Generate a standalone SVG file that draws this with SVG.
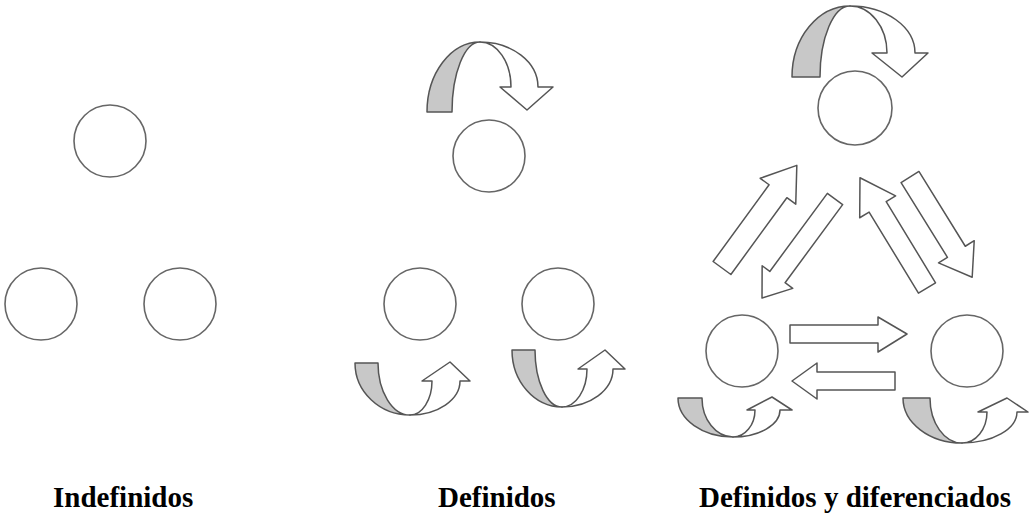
<svg xmlns="http://www.w3.org/2000/svg" width="1034" height="528" viewBox="0 0 1034 528">
<style>
.node{fill:#fff;stroke:#666;stroke-width:1.6}
.back{fill:#c8c8c8;stroke:#555;stroke-width:1.5;stroke-linejoin:round}
.front{fill:#fff;stroke:#555;stroke-width:1.5;stroke-linejoin:round}
.blk{fill:#fff;stroke:#555;stroke-width:1.5;stroke-linejoin:round}
.lbl{font-family:"Liberation Serif","Times New Roman",serif;font-weight:bold;font-size:29px;fill:#000}
</style>
<rect width="1034" height="528" fill="#fff"/>
<g id="panel1">
<g id="p1-top"><circle class="node" cx="110" cy="141" r="36"/></g>
<g id="p1-left"><circle class="node" cx="41" cy="304" r="36"/></g>
<g id="p1-right"><circle class="node" cx="180" cy="304" r="36"/></g>
</g>
<g id="panel2">
<g id="p2-top"><circle class="node" cx="489" cy="156" r="36"/></g>
<g id="p2-left"><circle class="node" cx="420" cy="304" r="36"/></g>
<g id="p2-right"><circle class="node" cx="558" cy="304" r="36"/></g>
</g>
<g id="panel3">
<g id="p3-top"><circle class="node" cx="855" cy="108" r="37"/></g>
<g id="p3-left"><circle class="node" cx="742" cy="351" r="36"/></g>
<g id="p3-right"><circle class="node" cx="967" cy="351" r="36"/></g>
</g>
<g id="connectors">
<path class="back" d="M427,112 A53,70 0 0 1 480,42 A28,70 0 0 0 452,112 Z"/>
<path class="front" d="M480,42 A31,45 0 0 1 511,87 L500,87 L527,110 L553,87 L538,87 A58,45 0 0 0 480,42 Z"/>
<path class="back" d="M355,363 A55,52 0 0 0 410,415 A32,52 0 0 1 378,363 Z"/>
<path class="front" d="M410,415 A22,34 0 0 0 432,381 L422,381 L450,362 L470,381 L460,381 A50,34 0 0 1 410,415 Z"/>
<path class="back" d="M512,350 A50,57 0 0 0 562,407 A27,57 0 0 1 535,350 Z"/>
<path class="front" d="M562,407 A25,38 0 0 0 587,369 L578,369 L605,350 L625,369 L613,369 A51,38 0 0 1 562,407 Z"/>
<path class="back" d="M792,77 A58,71 0 0 1 850,6 A30,71 0 0 0 820,77 Z"/>
<path class="front" d="M850,6 A37,47 0 0 1 887,53 L872,53 L902,77 L928,53 L915,53 A65,47 0 0 0 850,6 Z"/>
<path class="back" d="M678,398 A55,39 0 0 0 733,437 A31,39 0 0 1 702,398 Z"/>
<path class="front" d="M733,437 A22,27 0 0 0 755,410 L747,410 L772,397 L792,410 L780,410 A47,27 0 0 1 733,437 Z"/>
<path class="back" d="M903,398 A59,45 0 0 0 962,443 A32,45 0 0 1 930,398 Z"/>
<path class="front" d="M962,443 A25,31 0 0 0 987,412 L978,412 L1007,398 L1028,412 L1017,412 A55,31 0 0 1 962,443 Z"/>
<polygon class="blk" points="0,-11 95,-11 95,-22 127,0 95,22 95,11 0,11" transform="translate(722,268) rotate(-53.9)"/>
<polygon class="blk" points="0,-9.5 97,-9.5 97,-19 123,0 97,19 97,9.5 0,9.5" transform="translate(835,199) rotate(126.4)"/>
<polygon class="blk" points="0,-10 95,-10 95,-21 129,0 95,21 95,10 0,10" transform="translate(927,288) rotate(-121.3)"/>
<polygon class="blk" points="0,-10.5 88,-10.5 88,-21 118,0 88,21 88,10.5 0,10.5" transform="translate(910,177) rotate(58.2)"/>
<polygon class="blk" points="790,325 878,325 878,317 907,334 878,352 878,343 790,343"/>
<polygon class="blk" points="895,372 817,372 817,363 792,381 817,399 817,390 895,390"/>
</g>
<g id="labels">
<text class="lbl" x="53" y="507">Indefinidos</text>
<text class="lbl" x="438" y="507">Definidos</text>
<text class="lbl" x="699" y="507">Definidos y diferenciados</text>
</g>
</svg>
